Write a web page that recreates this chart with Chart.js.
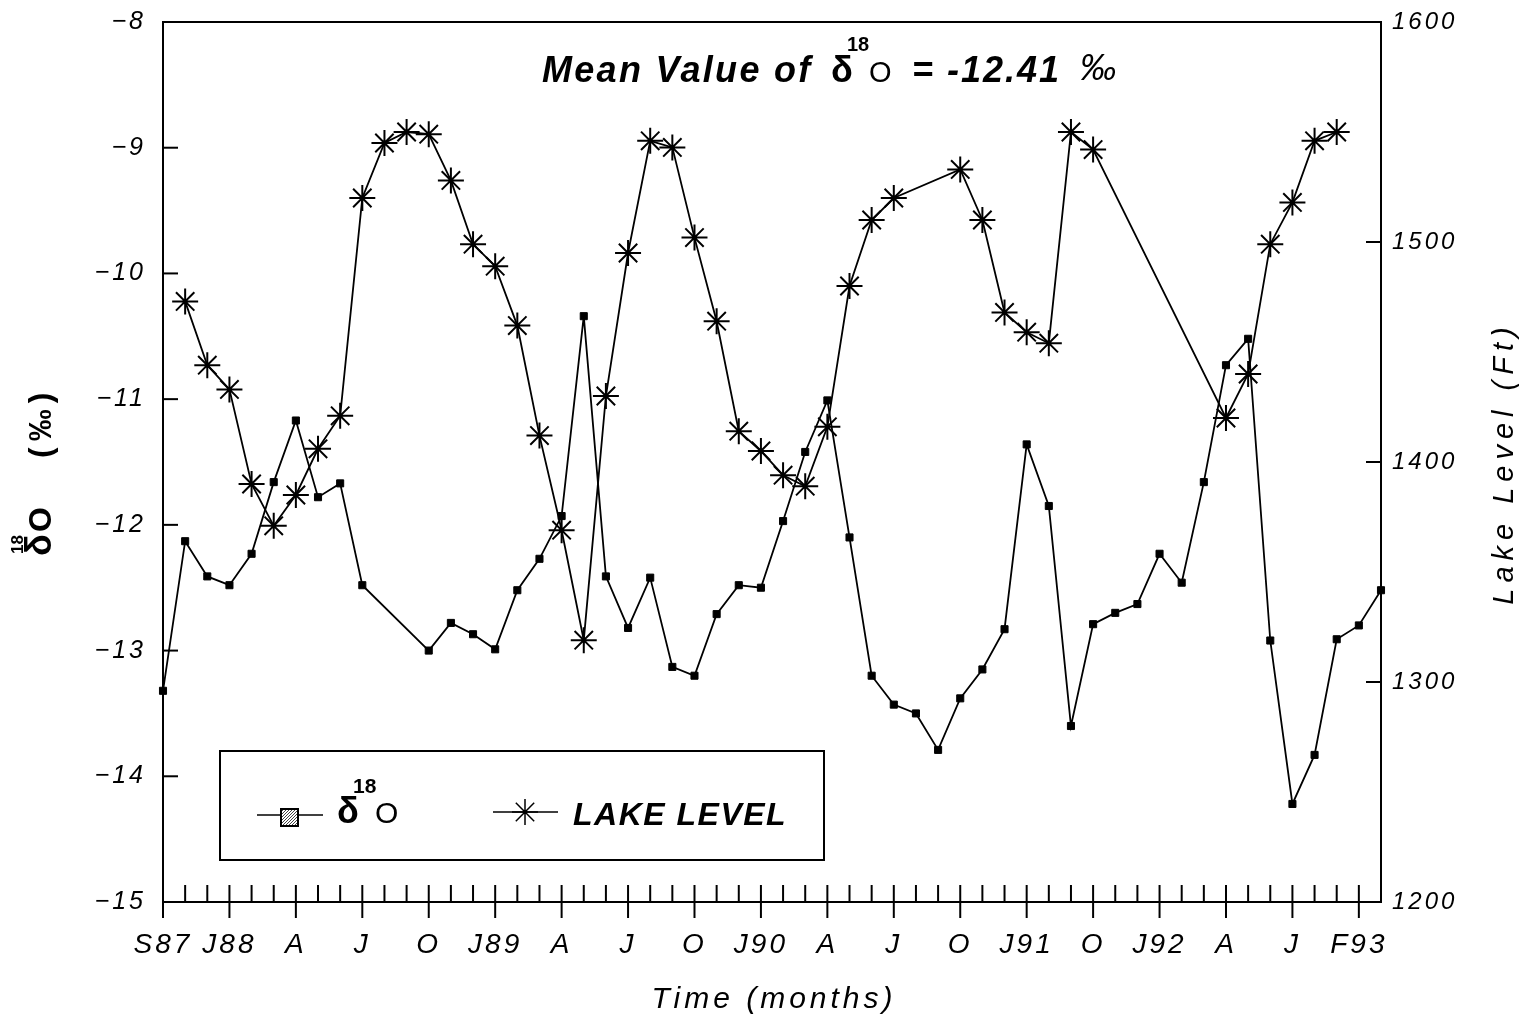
<!DOCTYPE html>
<html lang="en">
<head>
<meta charset="UTF-8">
<title>δ18O and Lake Level</title>
<script src="https://cdn.jsdelivr.net/npm/chart.js"></script>
<style>
  * { margin: 0; padding: 0; box-sizing: border-box; }
  body { background: #fff; width: 1526px; height: 1023px; overflow: hidden; }
  .wrap { position: relative; width: 1526px; height: 1023px; }
</style>
</head>
<body>
<div class="wrap"><canvas id="chart"></canvas></div>
<script>
// month index from S87 (0) to the end of the record (55)
const tickLabels = ['S87', 'J88', 'A', 'J', 'O', 'J89', 'A', 'J', 'O', 'J90', 'A', 'J', 'O', 'J91', 'O', 'J92', 'A', 'J', 'F93'];

const isoMonth = [0, 1, 2, 3, 4, 5, 6, 7, 8, 9, 12, 13, 14, 15, 16, 17, 18, 19, 20, 21, 22, 23, 24, 25, 26, 27,
  28, 29, 30, 31, 32, 33, 34, 35, 36, 37, 38, 39, 40, 41, 42, 43, 44, 45, 46, 47, 48, 49, 50, 51, 52, 53, 54, 55];
const isoValue = [-13.32, -12.13, -12.41, -12.48, -12.23, -11.66, -11.17, -11.78, -11.67, -12.48, -13.0, -12.78,
  -12.87, -12.99, -12.52, -12.27, -11.93, -10.34, -12.41, -12.82, -12.42, -13.13, -13.2, -12.71, -12.48, -12.5,
  -11.97, -11.42, -11.01, -12.1, -13.2, -13.43, -13.5, -13.79, -13.38, -13.15, -12.83, -11.36, -11.85, -13.6,
  -12.79, -12.7, -12.63, -12.23, -12.46, -11.66, -10.73, -10.52, -12.92, -14.22, -13.83, -12.91, -12.8, -12.52];

const lakeMonth = [1, 2, 3, 4, 5, 6, 7, 8, 9, 10, 11, 12, 13, 14, 15, 16, 17, 18, 19, 20, 21, 22, 23, 24, 25, 26,
  27, 28, 29, 30, 31, 32, 33, 36, 37, 38, 39, 40, 41, 42, 48, 49, 50, 51, 52, 53];
const lakeValue = [1473, 1444, 1433, 1390, 1371, 1385, 1406, 1421, 1520, 1545, 1550, 1549, 1528, 1499, 1489, 1462,
  1412, 1369, 1319, 1430, 1495, 1546, 1543, 1502, 1464, 1414, 1405, 1394, 1389, 1416, 1480, 1510, 1520, 1533,
  1510, 1468, 1459, 1454, 1550, 1542, 1420, 1440, 1499, 1518, 1546, 1550];

const FONT = "'Liberation Sans', Arial, sans-serif";

function pts(xs, ys) {
  return xs.map((m, i) => ({ x: m, y: ys[i] }));
}

function line(ctx, x1, y1, x2, y2) {
  ctx.beginPath();
  ctx.moveTo(x1, y1);
  ctx.lineTo(x2, y2);
  ctx.stroke();
}

function put(ctx, s, x, y, font, spacing) {
  ctx.font = font;
  ctx.letterSpacing = (spacing || 0) + 'px';
  ctx.fillText(s, x, y);
}

// fixed box sizes so the plot frame lands where it does in the figure
function fitBox(w, h) {
  return s => {
    if (w) s.width = w;
    if (h) s.height = h;
    s.paddingTop = 0;
    s.paddingBottom = 0;
    s.paddingLeft = 0;
    s.paddingRight = 0;
  };
}

// frame, inside ticks, titles and the boxed legend
const decor = {
  id: 'decor',
  beforeDraw(chart) {
    chart.ctx.letterSpacing = '3px';
  },
  afterDraw(chart) {
    const ctx = chart.ctx;
    const a = chart.chartArea;
    const xs = chart.scales.x, ys = chart.scales.y, ys2 = chart.scales.y2;
    ctx.save();
    ctx.letterSpacing = '0px';
    ctx.strokeStyle = '#000';
    ctx.fillStyle = '#000';
    ctx.lineWidth = 2;

    line(ctx, a.left, a.top, a.right, a.top);
    xs.ticks.forEach(t => {
      const px = xs.getPixelForValue(t.value);
      line(ctx, px, a.bottom - 17, px, t.value % 3 === 0 ? a.bottom + 16 : a.bottom);
    });
    ys.ticks.forEach(t => {
      const py = ys.getPixelForValue(t.value);
      line(ctx, a.left, py, a.left + 15, py);
    });
    ys2.ticks.forEach(t => {
      const py = ys2.getPixelForValue(t.value);
      line(ctx, a.right - 15, py, a.right, py);
    });

    // title inside the plot
    ctx.textAlign = 'left';
    ctx.textBaseline = 'alphabetic';
    put(ctx, 'Mean Value of', 542, 82, `italic bold 36px ${FONT}`, 2.3);
    put(ctx, 'δ', 831, 82, `bold 36px ${FONT}`);
    put(ctx, '18', 847, 51, `bold 20px ${FONT}`);
    put(ctx, 'O', 869, 82, `29px ${FONT}`);
    put(ctx, '= -12.41', 912, 82, `italic bold 36px ${FONT}`, 2);
    put(ctx, '‰', 1080, 80, `italic 36px ${FONT}`);

    // x title
    ctx.textAlign = 'center';
    put(ctx, 'Time (months)', 774, 1008, `italic 30px ${FONT}`, 4);

    // right title
    ctx.save();
    ctx.translate(1505, 463);
    ctx.rotate(-Math.PI / 2);
    ctx.textBaseline = 'middle';
    put(ctx, 'Lake Level (Ft)', 0, 0, `italic 29px ${FONT}`, 6);
    ctx.restore();

    // left title, reads upwards
    ctx.save();
    ctx.translate(51, 556);
    ctx.rotate(-Math.PI / 2);
    ctx.textAlign = 'left';
    ctx.textBaseline = 'alphabetic';
    put(ctx, 'δ', 0, 0, `bold 36px ${FONT}`);
    put(ctx, '18', 2, -28, `bold 17px ${FONT}`);
    put(ctx, 'O', 24, 0, `bold 32px ${FONT}`);
    put(ctx, '(‰)', 98, 0, `bold 32px ${FONT}`, 6);
    ctx.restore();

    // legend box
    ctx.lineWidth = 2;
    ctx.strokeRect(220, 751, 604, 109);
    ctx.lineWidth = 1.5;
    line(ctx, 257, 815, 323, 815);
    const tile = document.createElement('canvas');
    tile.width = 3; tile.height = 3;
    const tc = tile.getContext('2d');
    tc.fillStyle = '#fff'; tc.fillRect(0, 0, 3, 3);
    tc.fillStyle = '#444'; tc.fillRect(0, 0, 1, 1); tc.fillRect(2, 1, 1, 1); tc.fillRect(1, 2, 1, 1);
    ctx.fillStyle = ctx.createPattern(tile, 'repeat');
    ctx.fillRect(281, 809, 17, 17);
    ctx.lineWidth = 2;
    ctx.strokeRect(281, 809, 17, 17);
    ctx.fillStyle = '#000';
    ctx.textAlign = 'left';
    put(ctx, 'δ', 337, 823, `bold 36px ${FONT}`);
    put(ctx, '18', 353, 793, `bold 21px ${FONT}`);
    put(ctx, 'O', 375, 823, `30px ${FONT}`);

    ctx.lineWidth = 1.5;
    line(ctx, 493, 812, 558, 812);
    Chart.helpers.drawPoint(ctx, { pointStyle: 'star', radius: 13, borderWidth: 1.5, rotation: 0 }, 525, 812);
    put(ctx, 'LAKE LEVEL', 573, 825, `italic bold 32px ${FONT}`, 1.5);

    ctx.restore();
  }
};

new Chart(document.getElementById('chart'), {
  type: 'line',
  data: {
    datasets: [
      {
        label: 'δ18O',
        data: pts(isoMonth, isoValue),
        yAxisID: 'y',
        borderColor: '#000',
        borderWidth: 1.8,
        pointStyle: 'rect',
        pointRadius: 5,
        pointBackgroundColor: '#000',
        pointBorderColor: '#000',
        pointBorderWidth: 1,
        tension: 0,
        clip: false
      },
      {
        label: 'LAKE LEVEL',
        data: pts(lakeMonth, lakeValue),
        yAxisID: 'y2',
        borderColor: '#000',
        borderWidth: 1.8,
        pointStyle: 'star',
        pointRadius: 13,
        pointBorderColor: '#000',
        pointBorderWidth: 2,
        tension: 0,
        clip: false
      }
    ]
  },
  options: {
    responsive: true,
    maintainAspectRatio: false,
    animation: false,
    layout: { padding: { top: 22, left: 0, right: 0, bottom: 0 } },
    plugins: {
      legend: { display: false },
      tooltip: { enabled: false }
    },
    scales: {
      x: {
        type: 'linear',
        min: 0,
        max: 55,
        afterFit: fitBox(0, 121),
        border: { display: true, color: '#000', width: 2 },
        grid: { drawOnChartArea: false, drawTicks: false },
        ticks: {
          stepSize: 1,
          autoSkip: false,
          maxRotation: 0,
          padding: 26,
          color: '#000',
          font: { family: FONT, style: 'italic', size: 28 },
          callback: v => (v % 3 === 0 ? tickLabels[v / 3] : '')
        }
      },
      y: {
        position: 'left',
        min: -15,
        max: -8,
        afterFit: fitBox(163, 0),
        border: { display: true, color: '#000', width: 2 },
        grid: { drawOnChartArea: false, drawTicks: false },
        ticks: {
          stepSize: 1,
          padding: 17,
          color: '#000',
          font: { family: FONT, style: 'italic', size: 25 },
          callback: v => '\u2212' + Math.abs(v)
        }
      },
      y2: {
        position: 'right',
        min: 1200,
        max: 1600,
        afterFit: fitBox(145, 0),
        border: { display: true, color: '#000', width: 2 },
        grid: { drawOnChartArea: false, drawTicks: false },
        ticks: {
          stepSize: 100,
          padding: 11,
          color: '#000',
          font: { family: FONT, style: 'italic', size: 24 },
          callback: v => String(v)
        }
      }
    }
  },
  plugins: [decor]
});
</script>
</body>
</html>
